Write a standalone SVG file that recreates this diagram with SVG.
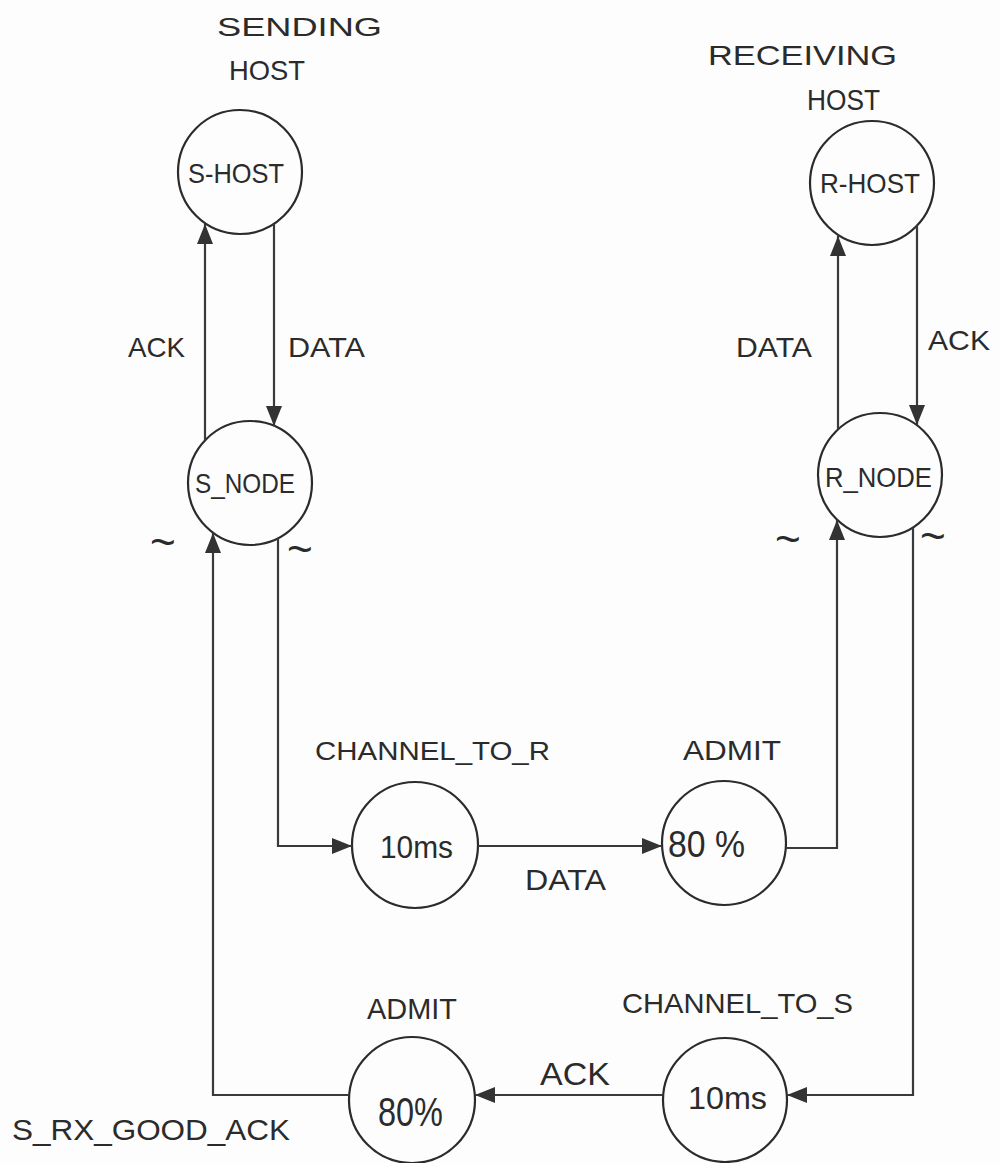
<svg xmlns="http://www.w3.org/2000/svg" width="1000" height="1163" viewBox="0 0 1000 1163">
<style>
.node circle { fill: none; stroke: #2b2b2b; stroke-width: 2.2; }
.t { font-family: "Liberation Sans", Arial, sans-serif; fill: #2b2b2b; }
.tilde { font-family: "Liberation Sans", Arial, sans-serif; fill: #2b2b2b; font-size: 44px; }
.conn path { fill: none; stroke: #3a3a3a; stroke-width: 2.2; }
</style>
<defs>
<marker id="ah" viewBox="0 0 20 16" refX="20" refY="8" markerWidth="20" markerHeight="16" markerUnits="userSpaceOnUse" orient="auto">
<path d="M0,0 L20,8 L0,16 z" fill="#333"/>
</marker>
</defs>
<rect x="0" y="0" width="1000" height="1163" fill="#fdfdfd"/>

<g id="s-host" class="node">
<text class="t" x="217" y="36" font-size="26" textLength="165" lengthAdjust="spacingAndGlyphs">SENDING</text>
<text class="t" x="229" y="80" font-size="28" textLength="76" lengthAdjust="spacingAndGlyphs">HOST</text>
<circle cx="240" cy="172" r="62"/>
<text class="t" x="188" y="183" font-size="28" textLength="96" lengthAdjust="spacingAndGlyphs">S-HOST</text>
</g>

<g id="r-host" class="node">
<text class="t" x="708" y="65" font-size="28" textLength="189" lengthAdjust="spacingAndGlyphs">RECEIVING</text>
<text class="t" x="807" y="110" font-size="30" textLength="73" lengthAdjust="spacingAndGlyphs">HOST</text>
<circle cx="872" cy="183" r="62"/>
<text class="t" x="820" y="193" font-size="28" textLength="100" lengthAdjust="spacingAndGlyphs">R-HOST</text>
</g>

<g id="s-node" class="node">
<circle cx="250" cy="483" r="62"/>
<text class="t" x="195" y="493" font-size="28" textLength="100" lengthAdjust="spacingAndGlyphs">S_NODE</text>
<text class="tilde" x="150" y="557">~</text>
<text class="tilde" x="287" y="564">~</text>
</g>

<g id="r-node" class="node">
<circle cx="880" cy="475" r="62"/>
<text class="t" x="825" y="487" font-size="28" textLength="107" lengthAdjust="spacingAndGlyphs">R_NODE</text>
<text class="tilde" x="775" y="554">~</text>
<text class="tilde" x="920" y="551">~</text>
</g>

<g id="channel-to-r" class="node">
<text class="t" x="315" y="760" font-size="26" textLength="235" lengthAdjust="spacingAndGlyphs">CHANNEL_TO_R</text>
<circle cx="415" cy="845" r="63"/>
<text class="t" x="380" y="858" font-size="32" textLength="73" lengthAdjust="spacingAndGlyphs">10ms</text>
</g>

<g id="admit-r" class="node">
<text class="t" x="683" y="760" font-size="28" textLength="98" lengthAdjust="spacingAndGlyphs">ADMIT</text>
<circle cx="724" cy="843" r="62"/>
<text class="t" x="668" y="857" font-size="36" textLength="77" lengthAdjust="spacingAndGlyphs">80 %</text>
</g>

<g id="admit-s" class="node">
<text class="t" x="367" y="1019" font-size="30" textLength="90" lengthAdjust="spacingAndGlyphs">ADMIT</text>
<circle cx="412" cy="1100" r="63"/>
<text class="t" x="378" y="1126" font-size="40" textLength="65" lengthAdjust="spacingAndGlyphs">80%</text>
</g>

<g id="channel-to-s" class="node">
<text class="t" x="622" y="1013" font-size="28" textLength="231" lengthAdjust="spacingAndGlyphs">CHANNEL_TO_S</text>
<circle cx="725" cy="1100" r="62"/>
<text class="t" x="688" y="1109" font-size="32" textLength="79" lengthAdjust="spacingAndGlyphs">10ms</text>
</g>

<g id="connectors" class="conn">
<path d="M205,440 V224" marker-end="url(#ah)"/>
<path d="M274,224 V426" marker-end="url(#ah)"/>
<path d="M838,429 V236" marker-end="url(#ah)"/>
<path d="M917,225 V425" marker-end="url(#ah)"/>
<path d="M278,538 V846 H352" marker-end="url(#ah)"/>
<path d="M478,846 H662" marker-end="url(#ah)"/>
<path d="M786,848 H837 V520" marker-end="url(#ah)"/>
<path d="M913,528 V1095 H787" marker-end="url(#ah)"/>
<path d="M663,1095 H475" marker-end="url(#ah)"/>
<path d="M349,1095 H213 V533" marker-end="url(#ah)"/>
<text class="t" x="128" y="357" font-size="28" textLength="57" lengthAdjust="spacingAndGlyphs">ACK</text>
<text class="t" x="288" y="357" font-size="28" textLength="77" lengthAdjust="spacingAndGlyphs">DATA</text>
<text class="t" x="736" y="357" font-size="28" textLength="76" lengthAdjust="spacingAndGlyphs">DATA</text>
<text class="t" x="928" y="350" font-size="28" textLength="62" lengthAdjust="spacingAndGlyphs">ACK</text>
<text class="t" x="525" y="890" font-size="30" textLength="81" lengthAdjust="spacingAndGlyphs">DATA</text>
<text class="t" x="540" y="1085" font-size="32" textLength="70" lengthAdjust="spacingAndGlyphs">ACK</text>
<text class="t" x="12" y="1140" font-size="30" textLength="278" lengthAdjust="spacingAndGlyphs">S_RX_GOOD_ACK</text>
</g>
</svg>
